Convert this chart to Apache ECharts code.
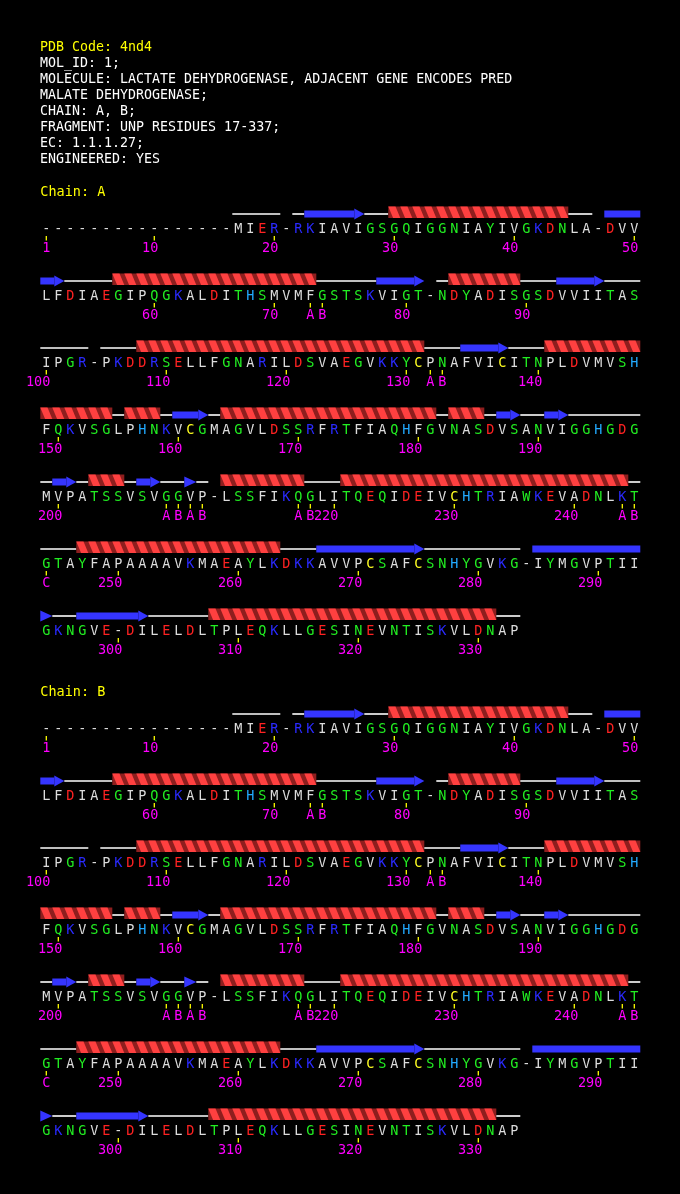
<!DOCTYPE html>
<html><head><meta charset="utf-8">
<script src="https://cdn.jsdelivr.net/npm/echarts@6/dist/echarts.min.js"></script>
<style>html,body{margin:0;padding:0;background:#000;}#c{width:680px;height:1194px;}</style>
</head><body><div id="c"></div>
<script>
// ---------- data ----------
const headerLines = [
  'PDB Code: 4nd4',
  'MOL_ID: 1;',
  'MOLECULE: LACTATE DEHYDROGENASE, ADJACENT GENE ENCODES PRED',
  'MALATE DEHYDROGENASE;',
  'CHAIN: A, B;',
  'FRAGMENT: UNP RESIDUES 17-337;',
  'EC: 1.1.1.27;',
  'ENGINEERED: YES'
];
const chainNames = ['A', 'B'];
const seqRows = [
  '----------------MIER-RKIAVIGSGQIGGNIAYIVGKDNLA-DVV',
  'LFDIAEGIPQGKALDITHSMVMFGSTSKVIGT-NDYADISGSDVVIITAS',
  'IPGR-PKDDRSELLFGNARILDSVAEGVKKYCPNAFVICITNPLDVMVSH',
  'FQKVSGLPHNKVCGMAGVLDSSRFRTFIAQHFGVNASDVSANVIGGHGDG',
  'MVPATSSVSVGGVP-LSSFIKQGLITQEQIDEIVCHTRIAWKEVADNLKT',
  'GTAYFAPAAAAVKMAEAYLKDKKAVVPCSAFCSNHYGVKG-IYMGVPTII',
  'GKNGVE-DILELDLTPLEQKLLGESINEVNTISKVLDNAP'
];
// secondary structure per row: [type, firstColumn, lastColumn, arrowHead]
const ssRows = [
  [['C',17,20],['C',22,22],['E',23,27,1],['C',28,29],['H',30,44],['C',45,46],['E',48,50,0]],
  [['E',1,2,1],['C',3,6],['H',7,23],['C',24,28],['E',29,32,1],['C',34,34],['H',35,40],['C',41,43],['E',44,47,1],['C',48,50]],
  [['C',1,4],['C',6,8],['H',9,32],['C',33,35],['E',36,39,1],['C',40,42],['H',43,50]],
  [['H',1,6],['C',7,7],['H',8,10],['C',11,11],['E',12,14,1],['C',15,15],['H',16,33],['C',34,34],['H',35,37],['C',38,38],['E',39,40,1],['C',41,42],['E',43,44,1],['C',45,50]],
  [['C',1,1],['E',2,3,1],['C',4,4],['H',5,7],['C',8,8],['E',9,10,1],['C',11,12],['E',13,13,1],['C',14,14],['H',16,22],['C',23,25],['H',26,49],['C',50,50]],
  [['C',1,3],['H',4,20],['C',21,23],['E',24,32,1],['C',33,40],['E',42,50,0]],
  [['E',1,1,1],['C',2,3],['E',4,9,1],['C',10,14],['H',15,38],['C',39,40]]
];
// residue-number labels per row: [column, text]
const labelRows = [
  [[1,'1'],[10,'10'],[20,'20'],[30,'30'],[40,'40'],[50,'50']],
  [[10,'60'],[20,'70'],[23,'A'],[24,'B'],[31,'80'],[41,'90']],
  [[1,'100'],[11,'110'],[21,'120'],[31,'130'],[33,'A'],[34,'B'],[42,'140']],
  [[2,'150'],[12,'160'],[22,'170'],[32,'180'],[42,'190']],
  [[2,'200'],[11,'A'],[12,'B'],[13,'A'],[14,'B'],[22,'A'],[23,'B'],[25,'220'],[35,'230'],[45,'240'],[49,'A'],[50,'B']],
  [[1,'C'],[7,'250'],[17,'260'],[27,'270'],[37,'280'],[47,'290']],
  [[7,'300'],[17,'310'],[27,'320'],[37,'330']]
];
const residueClass = {
  A:'hyd',V:'hyd',L:'hyd',I:'hyd',M:'hyd',F:'hyd',P:'hyd','-':'hyd',
  D:'acid',E:'acid',K:'base',R:'base',
  S:'pol',T:'pol',N:'pol',Q:'pol',G:'pol',Y:'pol',W:'pol',
  H:'his',C:'cys'
};

// ---------- style ----------
const COL = {hyd:'#dcdcdc',acid:'#ff2222',base:'#2a2aff',pol:'#22ee22',his:'#22aaff',cys:'#ffff22'};
const FONT = '13.5px "DejaVu Sans Mono", "Liberation Mono", monospace';
const PITCH = 67;               // px per sequence row
const CHAIN_GAP = 500 / PITCH;  // chain block offset in row units
const TOP0 = 228;               // first row letter centre (px)

// ---------- build series data ----------
const seqData = [], seqChars = [];
const ssData = [], ssTypes = [];
const labData = [], labTexts = [];
const chainData = [];
chainNames.forEach((cn, ci) => {
  chainData.push([0.5, ci * CHAIN_GAP]);
  seqRows.forEach((s, r) => {
    const rv = ci * CHAIN_GAP + r;
    for (let k = 0; k < s.length; k++) { seqData.push([k + 1, rv]); seqChars.push(s[k]); }
    ssRows[r].forEach(e => { ssData.push([e[1], e[2], rv, e[3] ? 1 : 0]); ssTypes.push(e[0]); });
    labelRows[r].forEach(l => { labData.push([l[0], rv]); labTexts.push(l[1]); });
  });
});

function renderSeq(params, api) {
  const p = api.coord([api.value(0), api.value(1)]);
  const ch = seqChars[params.dataIndex];
  return {type:'text', x:p[0], y:p[1] + 1,
    style:{text:ch, fill:COL[residueClass[ch]], font:FONT, align:'center', verticalAlign:'middle'}};
}
function renderSS(params, api) {
  const s = api.value(0), e = api.value(1), rv = api.value(2), arrow = api.value(3);
  const x0 = api.coord([s - 0.5, rv])[0], x1 = api.coord([e + 0.5, rv])[0];
  const L = api.coord([s, rv])[1];
  const cy = L - 14;
  const t = ssTypes[params.dataIndex];
  const children = [];
  if (t === 'C') {
    children.push({type:'line', shape:{x1:x0, y1:cy, x2:x1, y2:cy}, style:{stroke:'#ffffff', lineWidth:1.6}});
  } else if (t === 'E') {
    let head = arrow ? Math.min(10, x1 - x0) : 0;
    if (arrow && x1 - x0 <= 12.5) head = x1 - x0;
    const bx1 = x1 - head;
    if (bx1 > x0) children.push({type:'rect', shape:{x:x0, y:cy - 3.5, width:bx1 - x0, height:7}, style:{fill:'#3535ff'}});
    if (arrow) children.push({type:'polygon', shape:{points:[[bx1, cy - 5.5],[x1, cy],[bx1, cy + 5.5]]}, style:{fill:'#3535ff'}});
  } else {
    const top = L - 21.5, bot = L - 10;
    children.push({type:'rect', shape:{x:x0, y:top, width:x1 - x0, height:bot - top}, style:{fill:'#8e1e1e'}});
    const w = (x1 - x0) / (e - s + 1);
    for (let i = 0; i <= e - s; i++) {
      const xs = x0 + i * w;
      children.push({type:'polygon', shape:{points:[[xs, top],[xs + w * 0.6, top],[xs + w, bot],[xs + w * 0.4, bot]]}, style:{fill:'#ff4040'}});
    }
  }
  return {type:'group', children};
}
function renderLab(params, api) {
  const p = api.coord([api.value(0), api.value(1)]);
  const txt = labTexts[params.dataIndex];
  const numeric = /^[0-9]+$/.test(txt);
  return {type:'group', children:[
    {type:'line', shape:{x1:p[0], y1:p[1] + 8, x2:p[0], y2:p[1] + 12.5}, style:{stroke:'#ffff00', lineWidth:1.3}},
    {type:'text', x:numeric ? p[0] + 4 : p[0], y:p[1] + 20.5,
      style:{text:txt, fill:'#ff00ff', font:FONT, align:numeric ? 'right' : 'center', verticalAlign:'middle'}}
  ]};
}
function renderChain(params, api) {
  const p = api.coord([api.value(0), api.value(1)]);
  return {type:'text', x:p[0], y:p[1] - 36,
    style:{text:'Chain: ' + chainNames[params.dataIndex], fill:'#ffff00', font:FONT, align:'left', verticalAlign:'middle'}};
}

const chart = echarts.init(document.getElementById('c'), null, {renderer:'canvas'});
chart.setOption({
  backgroundColor:'#000000',
  animation:false,
  grid:{left:40.3, right:39.7, top:0, bottom:0},
  xAxis:{type:'value', min:0.5, max:50.5, show:false},
  yAxis:{type:'value', inverse:true, min:-TOP0 / PITCH, max:(1194 - TOP0) / PITCH, show:false},
  graphic: headerLines.map((t, i) => ({
    type:'text', x:40, y:48 + 16 * i,
    style:{text:t, fill:i === 0 ? '#ffff00' : '#ffffff', font:'13.3px "DejaVu Sans Mono", monospace', align:'left', verticalAlign:'middle'}
  })),
  series:[
    {type:'custom', name:'ss', renderItem:renderSS, data:ssData, clip:false, silent:true},
    {type:'custom', name:'seq', renderItem:renderSeq, data:seqData, clip:false, silent:true},
    {type:'custom', name:'labels', renderItem:renderLab, data:labData, clip:false, silent:true},
    {type:'custom', name:'chains', renderItem:renderChain, data:chainData, clip:false, silent:true}
  ]
});
</script></body></html>
